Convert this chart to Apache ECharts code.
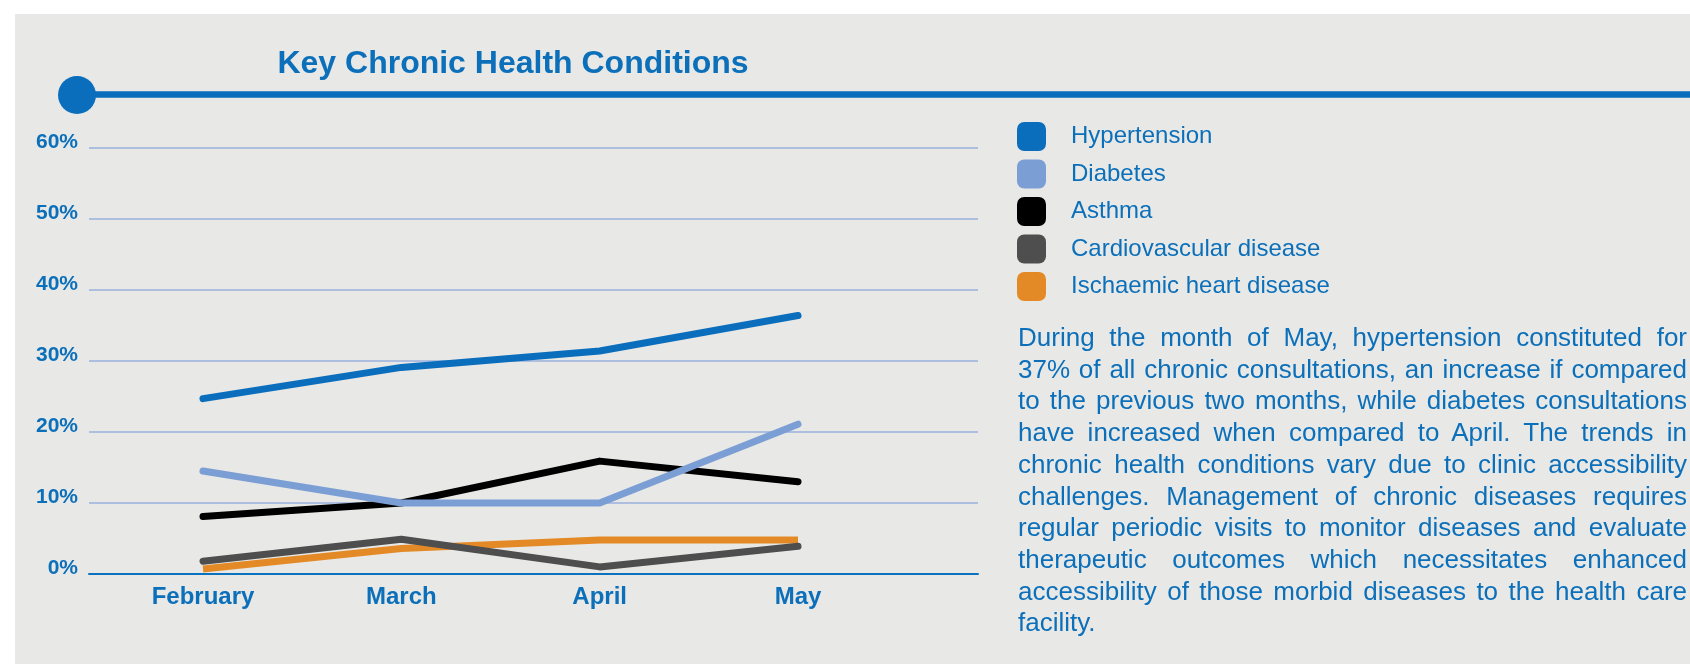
<!DOCTYPE html>
<html>
<head>
<meta charset="utf-8">
<script src="https://cdn.jsdelivr.net/npm/echarts@6/dist/echarts.min.js"></script>
<style>
html,body{margin:0;padding:0;background:#ffffff;}
#wrap{position:relative;width:1690px;height:664px;overflow:hidden;background:#ffffff;}
#panel{position:absolute;left:15px;top:14px;width:1675px;height:650px;background:#E8E8E6;}
#chart{position:absolute;left:0;top:0;width:1690px;height:664px;}
#note{position:absolute;left:1018px;top:322px;width:669px;font-family:"Liberation Sans",Arial,sans-serif;font-size:26px;line-height:31.7px;color:#0B6FBA;}
#note div{text-align:justify;text-align-last:justify;white-space:nowrap;}
#note div.last{text-align:left;text-align-last:left;}
</style>
</head>
<body>
<div id="wrap">
  <div id="panel"></div>
  <div id="chart"></div>
  <div id="note"></div>
</div>
<script>
// ---- data ----
const months = ['February', 'March', 'April', 'May'];
const seriesNames = ['Hypertension', 'Diabetes', 'Asthma', 'Cardiovascular disease', 'Ischaemic heart disease'];
const hypertension = [24.7, 29.1, 31.4, 36.4];
const diabetes = [14.5, 10.0, 10.0, 21.1];
const asthma = [8.1, 10.0, 15.9, 13.0];
const cardiovascular = [1.8, 4.9, 1.0, 3.9];
const ischaemic = [0.7, 3.6, 4.8, 4.8];
const yTicks = [0, 10, 20, 30, 40, 50, 60];
const noteLines = [
  'During the month of May, hypertension constituted for',
  '37% of all chronic consultations, an increase if compared',
  'to the previous two months, while diabetes consultations',
  'have increased when compared to April. The trends in',
  'chronic health conditions vary due to clinic accessibility',
  'challenges. Management of chronic diseases requires',
  'regular periodic visits to monitor diseases and evaluate',
  'therapeutic outcomes which necessitates enhanced',
  'accessibility of those morbid diseases to the health care',
  'facility.'
];

// ---- paragraph ----
const note = document.getElementById('note');
noteLines.forEach(function (t, i) {
  const d = document.createElement('div');
  d.textContent = t;
  if (i === noteLines.length - 1) d.className = 'last';
  note.appendChild(d);
});

// ---- chart ----
const BLUE = '#0B6FBA';
const FONT = '"Liberation Sans", Arial, sans-serif';
const colors = ['#0A6EBD', '#7B9ED5', '#000000', '#4E4E4E', '#E38A26'];
const values = [hypertension, diabetes, asthma, cardiovascular, ischaemic];
const caps = ['round', 'round', 'round', 'round', 'butt'];
const zs = [6, 5, 4, 3, 2];

const chart = echarts.init(document.getElementById('chart'), null, {renderer: 'canvas'});
const option = {
  animation: false,
  backgroundColor: 'transparent',
  graphic: [
    {type: 'line', shape: {x1: 77, y1: 94.5, x2: 1690, y2: 94.5}, style: {stroke: '#0A6EBD', lineWidth: 6.5}},
    {type: 'circle', shape: {cx: 77, cy: 95, r: 19}, style: {fill: '#0A6EBD'}}
  ],
  title: {
    text: 'Key Chronic Health Conditions',
    left: 508, top: 43, textAlign: 'center',
    textStyle: {color: BLUE, fontSize: 32, fontWeight: 'bold', fontFamily: FONT}
  },
  legend: {
    orient: 'vertical', left: 1017, top: 122, padding: 0,
    itemWidth: 29, itemHeight: 29, itemGap: 8.5,
    icon: 'roundRect',
    data: seriesNames,
    textStyle: {color: BLUE, fontSize: 24, fontFamily: FONT, padding: [0, 0, 0, 20]}
  },
  grid: [
    {left: 89, right: 712, top: 148, bottom: 90},
    {left: 203, right: 892, top: 148, bottom: 90}
  ],
  xAxis: [
    {gridIndex: 0, type: 'value', min: 0, max: 1,
      axisLine: {show: true, lineStyle: {color: '#0B72BF', width: 2}},
      axisTick: {show: false}, axisLabel: {show: false}, splitLine: {show: false}},
    {gridIndex: 1, type: 'category', data: months, boundaryGap: false,
      axisLine: {show: false}, axisTick: {show: false}, splitLine: {show: false},
      axisLabel: {color: BLUE, fontSize: 24, fontWeight: 'bold', fontFamily: FONT, margin: 11}}
  ],
  yAxis: [
    {gridIndex: 0, type: 'value', min: yTicks[0], max: yTicks[yTicks.length - 1], interval: yTicks[1] - yTicks[0],
      axisLine: {show: false}, axisTick: {show: false},
      splitLine: {lineStyle: {color: '#9AB1DC', width: 1.5}},
      axisLabel: {color: BLUE, fontSize: 21, fontWeight: 'bold', fontFamily: FONT, margin: 11,
        verticalAlign: 'bottom', lineHeight: 11, formatter: '{value}%'}},
    {gridIndex: 1, type: 'value', min: yTicks[0], max: yTicks[yTicks.length - 1], show: false}
  ],
  series: seriesNames.map(function (name, i) {
    return {
      name: name, type: 'line', xAxisIndex: 1, yAxisIndex: 1,
      data: values[i], showSymbol: false, symbol: 'none', clip: false, z: zs[i],
      itemStyle: {color: colors[i]},
      lineStyle: {color: colors[i], width: 7, cap: caps[i], join: 'round'}
    };
  })
};
chart.setOption(option);
</script>
</body>
</html>
